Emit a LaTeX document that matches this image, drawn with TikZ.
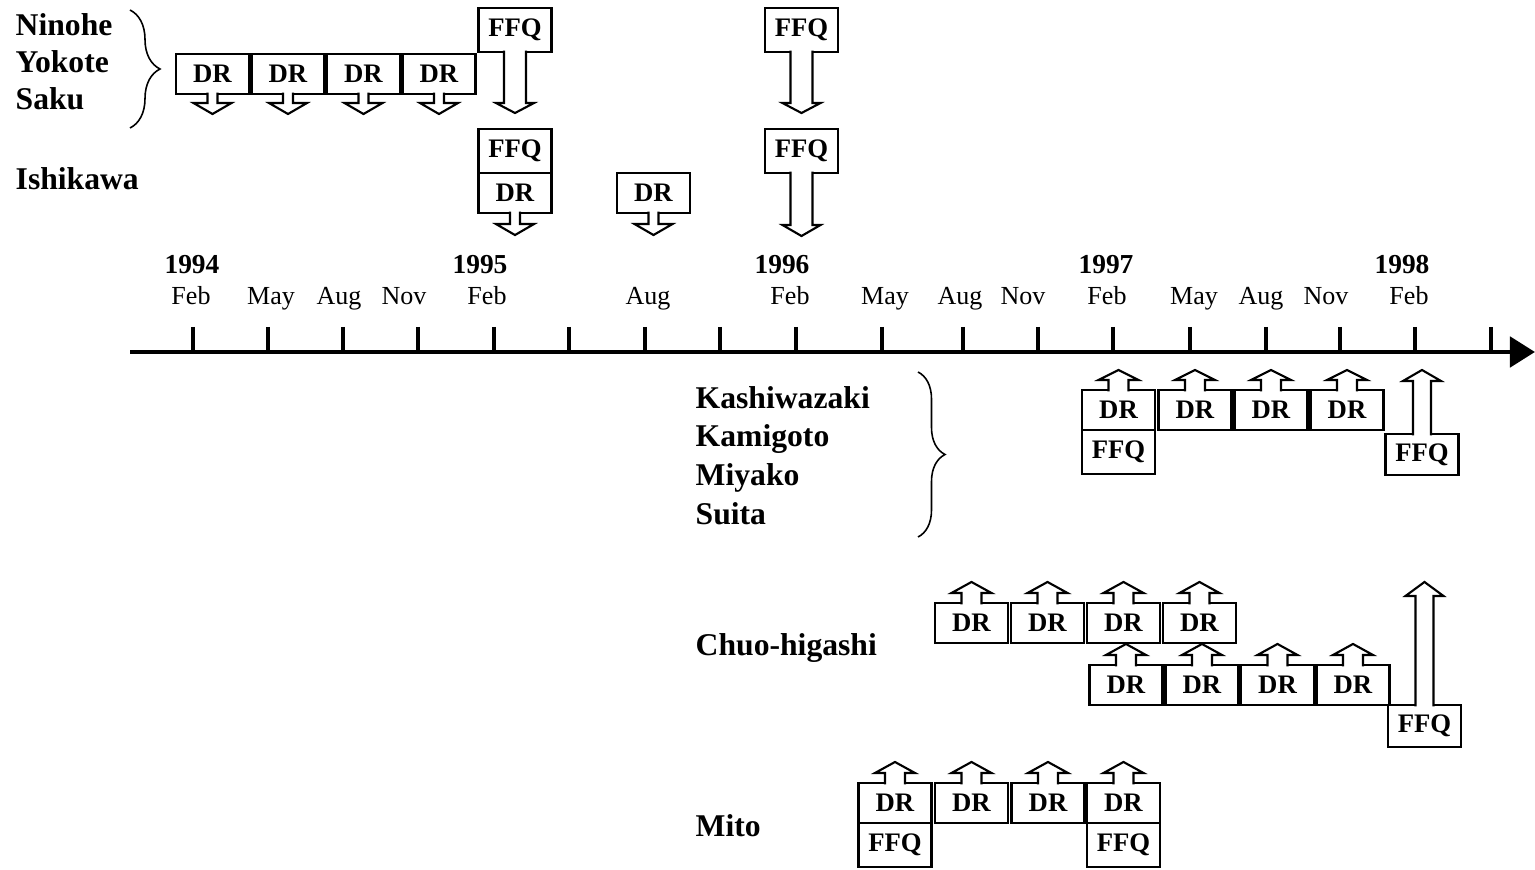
\documentclass[tikz,border=0pt]{standalone}
\usepackage{fontspec}
\setmainfont{Liberation Serif}
\usepackage{tikz}
\usetikzlibrary{calc, arrows.meta, decorations.pathreplacing}
\tikzstyle{dr} = [rectangle, minimum width=0.73cm, minimum height=0.40cm, inner sep=0pt, outer sep=0pt, text centered, draw=black, line width=0.6pt, fill=white, font=\bfseries\fontsize{7.6}{8}\selectfont]
\tikzstyle{ffq} = [dr, minimum height=0.44cm]
\tikzstyle{callarrow} = [draw=black, line width=0.6pt, fill=white, line join=miter]
\tikzstyle{sitelabel} = [anchor=base west, inner sep=0pt, font=\bfseries\fontsize{9}{10}\selectfont]
\tikzstyle{monthlabel} = [anchor=base, inner sep=0pt, font=\fontsize{7.4}{8}\selectfont]
\tikzstyle{yearlabel} = [anchor=base, inner sep=0pt, font=\bfseries\fontsize{7.8}{9}\selectfont]
\tikzstyle{tickmark} = [line width=1.1pt]
\tikzstyle{timeline} = [line width=1.4pt, -{Triangle[length=0.25cm, width=0.3cm]}]
\tikzstyle{bracket} = [decorate, decoration={brace, amplitude=0.3cm}, line width=0.45pt]

% box arrows: node, half stem, stem length, half head, head length
\newcommand{\calldown}[5]{\draw[callarrow] ($(#1.south)+(-#2,-1.5)$) -- ++(0,#3+1.5) -- ++(#2-#4,0) -- ++(#4,#5) -- ++(#4,-#5) -- ++(#2-#4,0) -- ++(0,-#3-1.5);}
\newcommand{\callup}[5]{\draw[callarrow] ($(#1.north)+(-#2,1.5)$) -- ++(0,-#3-1.5) -- ++(#2-#4,0) -- ++(#4,-#5) -- ++(#4,#5) -- ++(#2-#4,0) -- ++(0,#3+1.5);}

\begin{document}
\begin{tikzpicture}[x=0.01cm, y=-0.01cm]
	\useasboundingbox (0,0) rectangle (1535,870);

	% time axis
	\coordinate (axisstart) at (130,352);
	\coordinate (axisend) at (1535,352);
	\draw [timeline] (axisstart) -- (axisend);
	\foreach \x in {193,268,343,418,494,569,645,720,796,882,963,1038,1113,1190,1266,1340,1415,1491}
		\draw [tickmark] (\x,327) -- (\x,352);
	\foreach \x/\m [count=\i] in {191/Feb,271/May,339/Aug,404/Nov,487/Feb,648/Aug,790/Feb,885/May,960/Aug,1023/Nov,1107/Feb,1194/May,1261/Aug,1326/Nov,1409/Feb}
		\node [monthlabel] (month\i) at (\x,305) {\m};
	\foreach \x/\yr in {192/1994,480/1995,782/1996,1106/1997,1402/1998}
		\node [yearlabel] (year\yr) at (\x,274) {\yr};

	% Ninohe, Yokote, Saku
	\node (ninohe) [sitelabel] at (15,36) {Ninohe};
	\node (yokote) [sitelabel] at (15,73) {Yokote};
	\node (saku) [sitelabel] at (15,110) {Saku};
	\draw [bracket] (130,10) -- (130,128);
	\foreach \x [count=\i] in {212.5,288,363.5,439} {
		\node (top\i) [dr] at (\x,74) {DR};
		\calldown{top\i}{5}{9}{19}{11}
	}
	\node (topffqa) [ffq] at (515,30) {FFQ};
	\calldown{topffqa}{11}{51}{19}{10}
	\node (topffqb) [ffq] at (801.5,30) {FFQ};
	\calldown{topffqb}{11}{51}{19}{10}

	% Ishikawa
	\node (ishikawa) [sitelabel] at (15,190) {Ishikawa};
	\node (ishffqa) [ffq] at (515,151) {FFQ};
	\node (ishdra) [dr, anchor=north] at (ishffqa.south) {DR};
	\calldown{ishdra}{5}{11}{19}{11}
	\node (ishdrb) [dr] at (653.5,193) {DR};
	\calldown{ishdrb}{5}{11}{19}{11}
	\node (ishffqb) [ffq] at (801.5,151) {FFQ};
	\calldown{ishffqb}{11}{52}{19}{11}

	% Kashiwazaki, Kamigoto, Miyako, Suita
	\node (kashiwazaki) [sitelabel] at (695,409) {Kashiwazaki};
	\node (kamigoto) [sitelabel] at (695,447) {Kamigoto};
	\node (miyako) [sitelabel] at (695,486) {Miyako};
	\node (suita) [sitelabel] at (695,525) {Suita};
	\draw [bracket, decoration={brace, amplitude=0.27cm}] (918,372) -- (918,537);
	\foreach \x [count=\i] in {1118.5,1195,1271,1347} {
		\node (kas\i) [dr] at (\x,410) {DR};
		\callup{kas\i}{10}{10}{20}{10}
	}
	\node (kasffqa) [ffq, anchor=north] at (kas1.south) {FFQ};
	\node (kasffqb) [ffq, minimum height=0.41cm] at (1422,454.5) {FFQ};
	\callup{kasffqb}{9}{53}{19}{11}

	% Chuo-higashi
	\node (chuo) [sitelabel] at (695,656) {Chuo-higashi};
	\foreach \x [count=\i] in {971.5,1047.5,1123.5,1199.5} {
		\node (chuoa\i) [dr] at (\x,623) {DR};
		\callup{chuoa\i}{10}{10}{20}{11}
	}
	\foreach \x [count=\i] in {1126,1202,1277.5,1353} {
		\node (chuob\i) [dr] at (\x,685) {DR};
		\callup{chuob\i}{10}{10}{20}{11}
	}
	\node (chuoffq) [ffq, minimum height=0.42cm] at (1424.5,726) {FFQ};
	\callup{chuoffq}{9}{109}{19}{14}

	% Mito
	\node (mito) [sitelabel] at (695,837) {Mito};
	\foreach \x [count=\i] in {895,971.5,1048,1123.5} {
		\node (mito\i) [dr] at (\x,803) {DR};
		\callup{mito\i}{10}{10}{20}{11}
	}
	\node (mitoffqa) [ffq, anchor=north] at (mito1.south) {FFQ};
	\node (mitoffqb) [ffq, anchor=north] at (mito4.south) {FFQ};
\end{tikzpicture}
\end{document}
